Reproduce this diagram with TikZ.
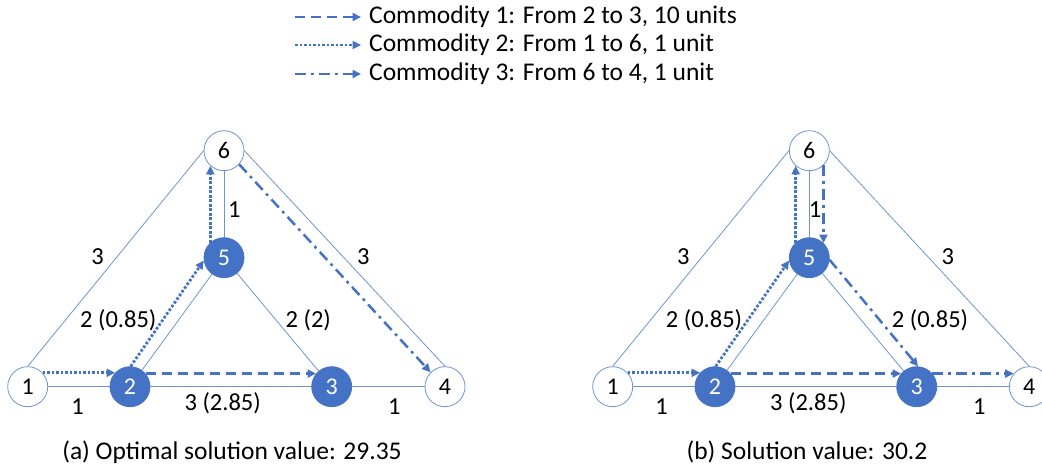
\documentclass[tikz,border=0pt]{standalone}
\usepackage{fontspec}
\setmainfont{Carlito}
\usetikzlibrary{arrows.meta}
\definecolor{fillblue}{HTML}{4472C4}
\definecolor{edgeblue}{HTML}{6F93D0}
\definecolor{flowblue}{HTML}{4472C4}
\begin{document}
\begin{tikzpicture}[x=1pt,y=-1pt,
  wnode/.style={circle,draw=edgeblue,line width=0.8pt,fill=white,minimum size=40pt,inner sep=0pt,font=\fontsize{24}{24}\selectfont},
  bnode/.style={circle,draw=fillblue,line width=0.8pt,fill=fillblue,text=white,minimum size=40pt,inner sep=0pt,font=\fontsize{24}{24}\selectfont},
  edge/.style={draw=edgeblue,line width=0.8pt},
  flow/.style={draw=flowblue,line width=2.5pt,-{Triangle[length=8.5pt,width=8pt]}},
  cone/.style={flow,dash pattern=on 10pt off 6pt},
  ctwo/.style={flow,line width=2.8pt,dash pattern=on 2.6pt off 1.9pt},
  cthree/.style={flow,dash pattern=on 11pt off 5pt on 2.8pt off 5pt},
  lab/.style={font=\fontsize{24.5}{24.5}\selectfont,text=black,inner sep=1pt},
  captxt/.style={font=\fontsize{25.5}{25.5}\selectfont,text=black,inner sep=1pt},
  leg/.style={font=\fontsize{25.5}{25.5}\selectfont,text=black,anchor=west,inner sep=0pt}]
\useasboundingbox (0,0) rectangle (1042,470);

% legend
\coordinate (l1a) at (295,17); \coordinate (l1b) at (361,17);
\coordinate (l2a) at (295,45); \coordinate (l2b) at (361,45);
\coordinate (l3a) at (295,74); \coordinate (l3b) at (361,74);
\draw[cone] (l1a) -- (l1b);
\draw[ctwo] (l2a) -- (l2b);
\draw[cthree] (l3a) -- (l3b);
\node[leg] (t1) at (369,17) {Commodity 1: From 2 to 3, 10 units};
\node[leg] (t2) at (369,45) {Commodity 2: From 1 to 6, 1 unit};
\node[leg] (t3) at (369,74) {Commodity 3: From 6 to 4, 1 unit};

% ---------- diagram (a) ----------
\node[wnode] (a1) at (27.7,386.7) {1};
\node[bnode] (a2) at (130,386.7) {2};
\node[bnode] (a3) at (331.7,386.7) {3};
\node[wnode] (a4) at (445,386.7) {4};
\node[bnode] (a5) at (224,257.7) {5};
\node[wnode] (a6) at (224,150.7) {6};

\draw[edge] (a1.north) -- (a6.west);
\draw[edge] (a6.east) -- (a4.north);
\draw[edge] (a1) -- (a2);
\draw[edge] (a2) -- (a3);
\draw[edge] (a3) -- (a4);
\draw[edge] (a2) -- (a5);
\draw[edge] (a5) -- (a3);
\draw[edge] (a5) -- (a6);

\draw[ctwo] (a1.43) -- (a2.137);
\draw[ctwo] (a2.88) -- (a5.188);
\draw[ctwo] (a5.132) -- (a6.228);
\draw[cone] (a2.40) -- (a3.140);
\draw[cthree] (a6.-42) -- (a4.135);

\node[lab] (ea1) at (97.7,256.7) {3};
\node[lab] (ea2) at (363.3,256.7) {3};
\node[lab] (ea3) at (234.3,210) {1};
\node[lab] (ea4) at (118.3,320) {2 (0.85)};
\node[lab] (ea5) at (308.3,320) {2 (2)};
\node[lab] (ea6) at (77.7,406.7) {1};
\node[lab] (ea7) at (222.7,403.3) {3 (2.85)};
\node[lab] (ea8) at (394.3,406.7) {1};
\node[captxt] (capa) at (232,452) {(a) Optimal solution value: 29.35};

% ---------- diagram (b) ----------
\node[wnode] (b1) at (612.7,386.7) {1};
\node[bnode] (b2) at (715,386.7) {2};
\node[bnode] (b3) at (916.7,386.7) {3};
\node[wnode] (b4) at (1029.3,386.7) {4};
\node[bnode] (b5) at (809.3,257.7) {5};
\node[wnode] (b6) at (809.3,150.7) {6};

\draw[edge] (b1.north) -- (b6.west);
\draw[edge] (b6.east) -- (b4.north);
\draw[edge] (b1) -- (b2);
\draw[edge] (b2) -- (b3);
\draw[edge] (b3) -- (b4);
\draw[edge] (b2) -- (b5);
\draw[edge] (b5) -- (b3);
\draw[edge] (b5) -- (b6);

\draw[ctwo] (b1.43) -- (b2.137);
\draw[ctwo] (b2.88) -- (b5.188);
\draw[ctwo] (b5.132) -- (b6.228);
\draw[cone] (b2.40) -- (b3.140);
\draw[cthree] (b6.-46) -- (b5.46);
\draw[cthree] (b5.-6) -- (b3.86);
\draw[cthree] (b3.40) -- (b4.140);

\node[lab] (eb1) at (683.3,256.7) {3};
\node[lab] (eb2) at (947.7,256.7) {3};
\node[lab] (eb3) at (815,210) {1};
\node[lab] (eb4) at (704,320) {2 (0.85)};
\node[lab] (eb5) at (930,320) {2 (0.85)};
\node[lab] (eb6) at (661.7,406.7) {1};
\node[lab] (eb7) at (808.3,403.3) {3 (2.85)};
\node[lab] (eb8) at (979.3,406.7) {1};
\node[captxt] (capb) at (807,452) {(b) Solution value: 30.2};
\end{tikzpicture}
\end{document}
